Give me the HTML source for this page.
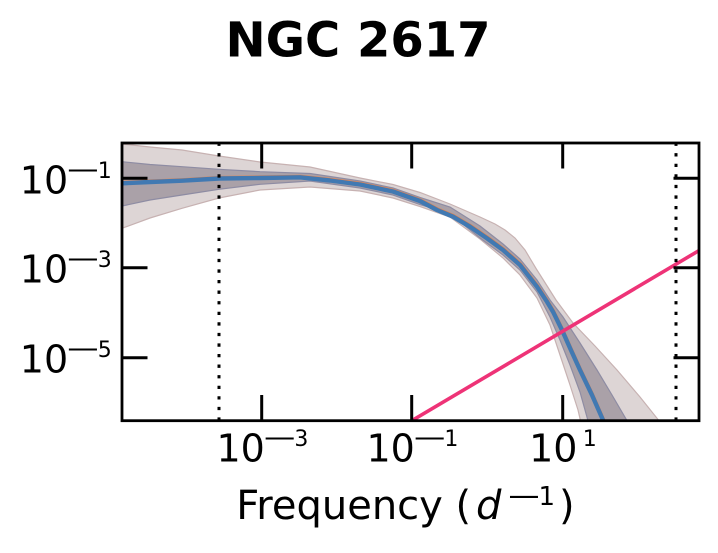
<!DOCTYPE html>
<html>
<head>
<meta charset="utf-8">
<style>
html,body{margin:0;padding:0;background:#fff;}
svg{display:block;}
text{font-family:"DejaVu Sans","Liberation Sans",sans-serif;fill:#000;}
</style>
</head>
<body>
<svg width="718" height="553" viewBox="0 0 718 553" xmlns="http://www.w3.org/2000/svg">
<defs>
<clipPath id="ax"><rect x="122" y="143" width="577" height="277.7"/></clipPath>
</defs>
<rect width="718" height="553" fill="#fff"/>

<!-- Title -->
<text x="358" y="56.7" font-size="48" font-weight="bold" text-anchor="middle">NGC 2617</text>

<g clip-path="url(#ax)">
  <!-- light band -->
  <polygon fill="#ddd5d5" stroke="#c7b2b2" stroke-width="1.2" points="122,144 150,147 182,150 219,156 260,162 310,167 360,178 393,184.5 420,192.5 450,204 480,217 495,224 505,230 515,238 525,250 537,270 556,300 573,323 595,346 617,370 640,397 659,420.7 676,440 585,440 578,410 570,385 560,355 550,325 537,298 520,275 503,258 480,239 450,217 420,206.5 393,198 360,191 310,187 260,190 219,198 182,208.3 150,218 122,228.3 110,232 110,140"/>
  <!-- dark band -->
  <polygon fill="#aaa1a8" stroke="#8e8ca3" stroke-width="1.2" points="122,161.7 150,164.5 182,166.7 219,169.3 260,171.7 310,173.5 360,181 393,188 420,197.5 450,207 480,226 503,244 520,259 537,280 550,300 563,317 580,343 597,370 612,395 627,420.7 640,440 595,440 588,420.7 580,392 570,365 560,340 550,317 537,292 520,270 503,255 480,238 450,213.5 420,204.5 393,195 360,188 310,181 260,184.3 219,189.3 182,195 150,200 122,206 110,208 110,160"/>
  <!-- orange median -->
  <polyline fill="none" stroke="#e8834a" stroke-width="2" stroke-linejoin="round" transform="translate(0.8,-1.6)" points="110,184 122,183.3 150,182 182,180.7 219,178.5 260,178 300,177.3 330,180.5 360,184.5 393,191.5 420,201 437,210 453,216.7 470,226.7 487,238.3 503,250 520,265 537,286.7 547,301.7 553,311.7 562,330 570,348 580,370 592,395 603.3,420.7 612,440"/>
  <!-- blue line -->
  <polyline fill="none" stroke="#4179b2" stroke-width="4.4" stroke-linejoin="round" points="110,184 122,183.3 150,182 182,180.7 219,178.5 260,178 300,177.3 330,180.5 360,184.5 393,191.5 420,201 437,210 453,216.7 470,226.7 487,238.3 503,250 520,265 537,286.7 547,301.7 553,311.7 562,330 570,348 580,370 592,395 603.3,420.7 612,440"/>
  <!-- pink line -->
  <line x1="405" y1="424.7" x2="705" y2="247" stroke="#ee3377" stroke-width="3.6"/>
  <!-- dotted lines -->
  <line x1="219" y1="420.7" x2="219" y2="143" stroke="#000" stroke-width="3" stroke-dasharray="3.3 7.27"/>
  <line x1="676" y1="420.7" x2="676" y2="143" stroke="#000" stroke-width="3" stroke-dasharray="3.3 7.27"/>
</g>

<!-- ticks -->
<g stroke="#000" stroke-width="3">
  <line x1="261.7" y1="143" x2="261.7" y2="168.5"/>
  <line x1="411.7" y1="143" x2="411.7" y2="168.5"/>
  <line x1="562.7" y1="143" x2="562.7" y2="168.5"/>
  <line x1="261.7" y1="420.7" x2="261.7" y2="395"/>
  <line x1="411.7" y1="420.7" x2="411.7" y2="395"/>
  <line x1="562.7" y1="420.7" x2="562.7" y2="395"/>
  <line x1="122" y1="178.3" x2="147.5" y2="178.3"/>
  <line x1="122" y1="267.7" x2="147.5" y2="267.7"/>
  <line x1="122" y1="357.7" x2="147.5" y2="357.7"/>
  <line x1="699" y1="178.3" x2="673.5" y2="178.3"/>
  <line x1="699" y1="267.7" x2="673.5" y2="267.7"/>
  <line x1="699" y1="357.7" x2="673.5" y2="357.7"/>
</g>
<!-- spines -->
<rect x="122" y="143" width="577" height="277.7" fill="none" stroke="#000" stroke-width="2.8"/>

<!-- y tick labels -->
<text x="19.8" y="193.3" font-size="38">10</text>
<text x="64.2" y="177.8" font-size="24" textLength="37.6" lengthAdjust="spacingAndGlyphs">−</text>
<text x="111.7" y="177.8" font-size="22" text-anchor="end">1</text>

<text x="19.8" y="282.7" font-size="38">10</text>
<text x="64.2" y="267.2" font-size="24" textLength="37.6" lengthAdjust="spacingAndGlyphs">−</text>
<text x="111.7" y="267.2" font-size="22" text-anchor="end">3</text>

<text x="19.8" y="372.7" font-size="38">10</text>
<text x="64.2" y="357.2" font-size="24" textLength="37.6" lengthAdjust="spacingAndGlyphs">−</text>
<text x="111.7" y="357.2" font-size="22" text-anchor="end">5</text>

<!-- x tick labels -->
<text x="216.5" y="461.7" font-size="38">10</text>
<text x="260.9" y="446.2" font-size="24" textLength="37.6" lengthAdjust="spacingAndGlyphs">−</text>
<text x="308.4" y="446.2" font-size="22" text-anchor="end">3</text>

<text x="366.5" y="461.7" font-size="38">10</text>
<text x="410.9" y="446.2" font-size="24" textLength="37.6" lengthAdjust="spacingAndGlyphs">−</text>
<text x="458.4" y="446.2" font-size="22" text-anchor="end">1</text>

<text x="529.1" y="461.7" font-size="38">10</text>
<text x="596.8" y="446.2" font-size="22" text-anchor="end">1</text>

<!-- x axis label -->
<text x="236.2" y="519" font-size="40">Frequency (</text>
<text x="476" y="519" font-size="40" font-style="italic">d</text>
<text x="505.3" y="505" font-size="26" textLength="37.5" lengthAdjust="spacingAndGlyphs">−</text>
<text x="555" y="505" font-size="26" text-anchor="end">1</text>
<text x="559" y="519" font-size="40">)</text>
</svg>
</body>
</html>
